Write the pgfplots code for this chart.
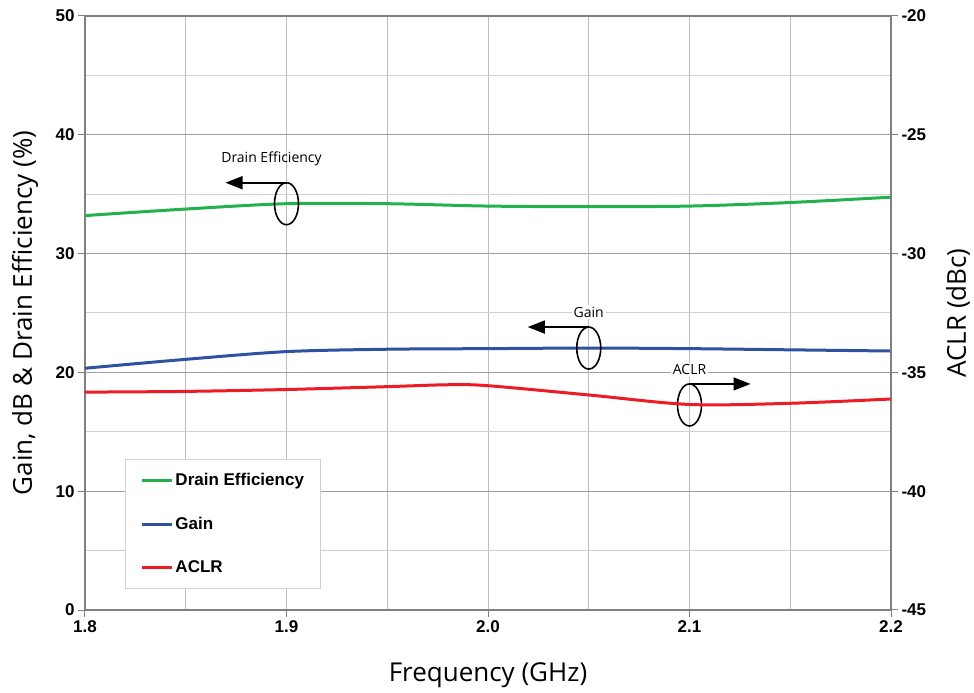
\documentclass[border=0pt]{standalone}
\usepackage{fontspec}
\setmainfont{Liberation Sans}
\newfontfamily\labfont{Open Sans}
\usepackage{pgfplots}
\pgfplotsset{compat=1.18}
\usetikzlibrary{arrows.meta}

\definecolor{deGreen}{RGB}{34,177,76}
\definecolor{gainBlue}{RGB}{47,82,160}
\definecolor{aclrRed}{RGB}{237,28,36}
\definecolor{axisGray}{RGB}{128,128,128}
\definecolor{gridMajor}{RGB}{160,160,160}
\definecolor{gridMinor}{RGB}{208,208,208}
\definecolor{gridX}{RGB}{190,190,190}

\pgfplotsset{
  every axis/.append style={
    scale only axis, width=806pt, height=594pt,
    xmin=1.8, xmax=2.2,
    axis line style={axisGray, line width=1.6pt},
    tick style={axisGray, line width=1pt},
    major tick length=7pt,
    minor tick length=0pt,
    tick align=outside,
    /pgf/number format/assume math mode=true,
    ticklabel style={font=\bfseries\fontsize{17}{20}\selectfont},
    label style={font=\labfont\fontsize{26}{30}\selectfont},
  }
}

\begin{document}
\begin{tikzpicture}
\begin{axis}[
    ymin=0, ymax=50,
    xtick={1.8,1.9,2.0,2.1,2.2},
    minor xtick={1.85,1.95,2.05,2.15},
    ytick={0,10,20,30,40,50},
    minor ytick={5,15,25,35,45},
    grid=both,
    major x grid style={gridX, line width=1pt},
    minor x grid style={gridX, line width=1pt},
    major y grid style={gridMajor, line width=1pt},
    minor y grid style={gridMinor, line width=1pt},
    xtick pos=bottom, ytick pos=left,
    xticklabel style={/pgf/number format/.cd, fixed, fixed zerofill, precision=1},
    xlabel={Frequency (GHz)},
    ylabel={Gain, dB \& Drain Efficiency (\%)},
    xlabel style={at={([yshift=-65pt]axis description cs:0.5,0)}, anchor=center},
    ylabel style={at={([xshift=-60pt]axis description cs:0,0.5)}, anchor=center},
]
% drain efficiency
\addplot[deGreen, line width=3pt, smooth] coordinates {
    (1.80, 33.2) (1.85, 33.75) (1.90, 34.2) (1.95, 34.2) (2.00, 34.0)
    (2.05, 33.95) (2.10, 34.0) (2.15, 34.3) (2.20, 34.75)
};
% gain
\addplot[gainBlue, line width=3pt, smooth] coordinates {
    (1.80, 20.35) (1.85, 21.1) (1.90, 21.75) (1.95, 21.95) (2.00, 22.0)
    (2.05, 22.05) (2.10, 22.0) (2.15, 21.9) (2.20, 21.8)
};

% callouts
\draw[line width=1.6pt] (axis cs:1.9,34.2) ellipse [x radius=12pt, y radius=21pt];
\draw[line width=1.6pt, -{Triangle[length=17pt,width=13pt]}]
    ([yshift=21pt]axis cs:1.9,34.2) -- ([xshift=-61pt,yshift=21pt]axis cs:1.9,34.2);
\node[font=\labfont\fontsize{14}{16}\selectfont] at ([xshift=-15pt,yshift=45pt]axis cs:1.9,34.2) {Drain Efficiency};

\draw[line width=1.6pt] (axis cs:2.05,22.05) ellipse [x radius=12pt, y radius=21pt];
\draw[line width=1.6pt, -{Triangle[length=17pt,width=13pt]}]
    ([yshift=21pt]axis cs:2.05,22.05) -- ([xshift=-61pt,yshift=21pt]axis cs:2.05,22.05);
\node[fill=white, inner sep=2pt, font=\labfont\fontsize{14}{16}\selectfont] at ([yshift=36pt]axis cs:2.05,22.05) {Gain};

\draw[line width=1.6pt] (axis cs:2.1,17.26) ellipse [x radius=12pt, y radius=21pt];
\draw[line width=1.6pt, -{Triangle[length=17pt,width=13pt]}]
    ([yshift=21pt]axis cs:2.1,17.26) -- ([xshift=61pt,yshift=21pt]axis cs:2.1,17.26);
\node[fill=white, inner sep=2pt, font=\labfont\fontsize{14}{16}\selectfont] at ([yshift=35pt]axis cs:2.1,17.26) {ACLR};
\end{axis}

\begin{axis}[
    ymin=-45, ymax=-20,
    ytick={-45,-40,-35,-30,-25,-20},
    axis y line*=right, axis x line=none,
    ylabel={ACLR (dBc)},
    ylabel style={at={([xshift=67pt]axis description cs:1,0.5)}, anchor=center},
    legend image code/.code={\draw[#1] (0pt,0pt) -- (30pt,0pt);},
    legend style={at={(0.0496,0.0354)}, anchor=south west,
        draw=gridMinor, line width=1pt,
        font=\bfseries\fontsize{17}{20}\selectfont,
        row sep=26pt, inner xsep=15pt, inner ysep=12pt},
    legend cell align=left,
]
\addlegendimage{deGreen, line width=3pt}
\addlegendentry{Drain Efficiency}
\addlegendimage{gainBlue, line width=3pt}
\addlegendentry{Gain}
% ACLR
\addplot[aclrRed, line width=3pt, smooth] coordinates {
    (1.80, -35.83) (1.85, -35.8) (1.90, -35.72) (1.95, -35.6) (1.98, -35.52)
    (2.00, -35.56) (2.05, -35.95) (2.10, -36.35) (2.15, -36.3) (2.20, -36.12)
};
\addlegendentry{ACLR}
\end{axis}
\path ([xshift=-85pt,yshift=-83pt]current axis.south west) rectangle ([xshift=83pt,yshift=16pt]current axis.north east);
\end{tikzpicture}
\end{document}
